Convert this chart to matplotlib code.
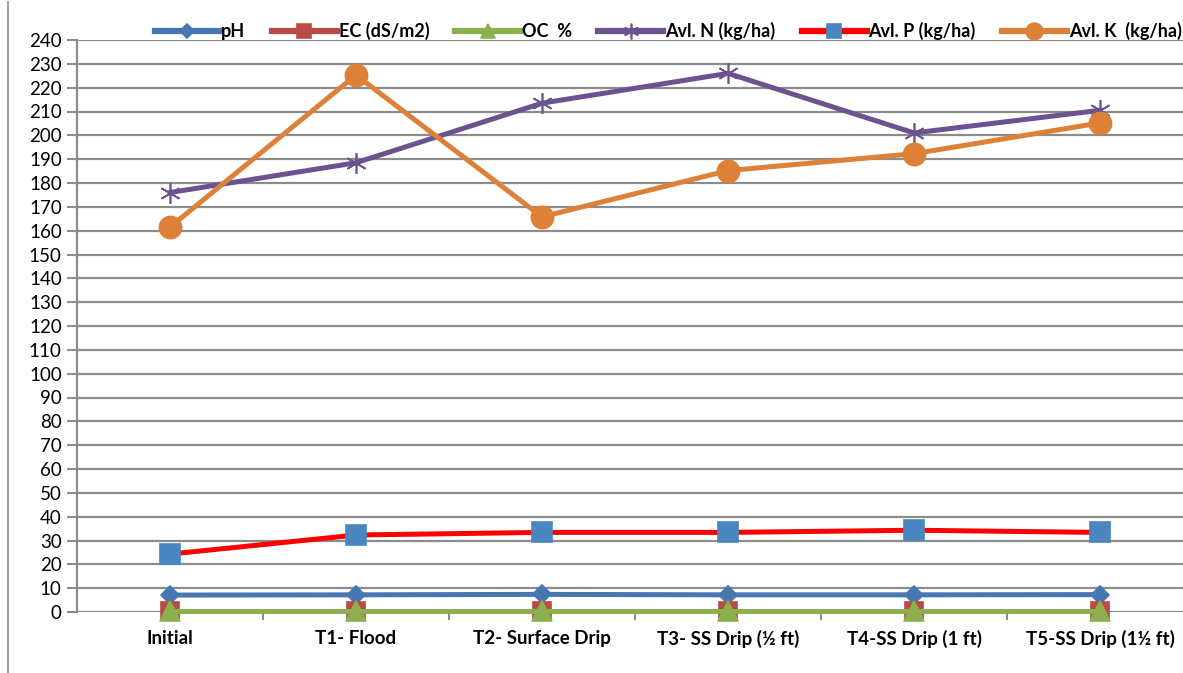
import matplotlib
matplotlib.use("Agg")
import matplotlib.pyplot as plt
from matplotlib.lines import Line2D
import numpy as np

categories = ["Initial", "T1- Flood", "T2- Surface Drip", "T3- SS Drip (½ ft)",
              "T4-SS Drip (1 ft)", "T5-SS Drip (1½ ft)"]
ph = [7.1, 7.2, 7.4, 7.2, 7.2, 7.3]
ec = [0.3, 0.3, 0.3, 0.3, 0.3, 0.3]
oc = [0.6, 0.6, 0.6, 0.6, 0.6, 0.6]
avl_n = [176, 188.5, 213.5, 226, 201, 210.5]
avl_p = [24.3, 32.3, 33.4, 33.4, 34.3, 33.4]
avl_k = [161.5, 225.3, 165.8, 185.2, 192.3, 205.2]
yticks = list(range(0, 241, 10))

plt.rcParams['font.family'] = ['Lato', 'DejaVu Sans']

W, H = 1183, 673
fig = plt.figure(figsize=(W / 100, H / 100), dpi=100)
ax = fig.add_axes([77 / W, 1 - 612 / H, (1193 - 77) / W, (612 - 40) / H])

x = np.arange(len(categories))
lw = 3.6
series = [
    ("pH", ph, "#4677B0", "D", 9, "#4677B0", "#4677B0"),
    ("EC (dS/m2)", ec, "#B84A47", "s", 13, "#B84A47", "#B84A47"),
    ("OC  %", oc, "#8DB04F", "^", 14, "#8DB04F", "#8DB04F"),
    ("Avl. N (kg/ha)", avl_n, "#6C5291", (6, 2, 0), 15, "#6C5291", "#6C5291"),
    ("Avl. P (kg/ha)", avl_p, "#FF0000", "s", 14, "#4A86C0", "#4A86C0"),
    ("Avl. K  (kg/ha)", avl_k, "#DD8139", "o", 16, "#DD8139", "#DD8139"),
]
for label, vals, col, mk, ms, mfc, mec in series:
    ax.plot(x, vals, color=col, lw=lw, marker=mk, markersize=ms,
            markerfacecolor=mfc, markeredgecolor=mec, markeredgewidth=1.2,
            label=label, clip_on=False, zorder=3)

ax.set_xlim(-0.5, len(categories) - 0.5)
ax.set_ylim(0, 240)
ax.set_yticks(yticks)
ax.set_yticklabels([str(v) for v in yticks], fontsize=13.5)
ax.set_xticks(x)
ax.set_xticklabels(categories, fontsize=13.5, fontweight='bold')
ax.set_xticks(np.arange(0.5, len(categories) - 0.5, 1), minor=True)
ax.tick_params(axis='x', which='major', length=0, pad=13)
ax.tick_params(axis='x', which='minor', length=6, width=1.5, color='#8C8C8C', direction='out')
ax.tick_params(axis='y', length=7, width=1.5, color='#8C8C8C', pad=4)

for v in yticks:
    ax.axhline(v, color='#8C8C8C', lw=1.6, zorder=1)

for s in ['top', 'right', 'bottom']:
    ax.spines[s].set_visible(False)
ax.spines['left'].set_color('#8C8C8C')
ax.spines['left'].set_linewidth(1.6)

leg = fig.legend(loc='center', bbox_to_anchor=(668 / W, 1 - 31 / H), ncol=6,
                 frameon=False, prop={'weight': 'bold', 'size': 13},
                 handlelength=3.6, handletextpad=0.1, columnspacing=1.45,
                 markerscale=0.75, borderaxespad=0, borderpad=0)
for h in leg.get_lines():
    h.set_linewidth(4.5)

fig.add_artist(Line2D([8 / W, 8 / W], [0, 1 - 2 / H], transform=fig.transFigure,
                      color='#8C8C8C', lw=1.2))

fig.savefig("out.png", dpi=100)
